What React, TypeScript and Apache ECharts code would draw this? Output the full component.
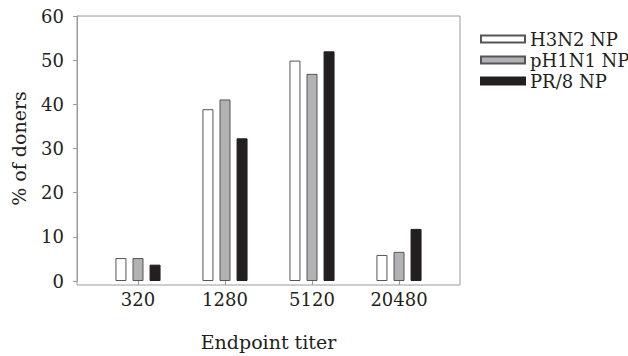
import React, { useEffect, useRef } from "react";
import * as echarts from "echarts";

const categories = ["320", "1280", "5120", "20480"];
const h3n2 = [5.2, 38.9, 49.9, 5.9];
const ph1n1 = [5.2, 41.1, 46.9, 6.6];
const pr8 = [3.7, 32.3, 52.0, 11.8];
const seriesNames = ["H3N2 NP", "pH1N1 NP", "PR/8 NP"];
const yTicks = [0, 10, 20, 30, 40, 50, 60];

const FONT = "DejaVu Serif";
const TEXT = "#231f20";
const AXIS = "#9a9a9a";

export default function App() {
  const ref = useRef<HTMLDivElement>(null);
  useEffect(() => {
    if (!ref.current) return;
    const chart = echarts.init(ref.current, undefined, { renderer: "svg" });
    const barBase = { type: "bar", xAxisIndex: 1, yAxisIndex: 1, barWidth: 11, barGap: "55%" };
    chart.setOption({
      animation: false,
      textStyle: { fontFamily: FONT },
      grid: [
        { left: 77, right: 168, top: 16, bottom: 71, show: true, borderColor: AXIS, borderWidth: 1, backgroundColor: "transparent" },
        { left: 94.5, right: 185.5, top: 16, bottom: 71 },
      ],
      legend: {
        orient: "vertical",
        left: 475,
        top: 25,
        icon: "rect",
        itemWidth: 44,
        itemHeight: 7,
        itemGap: 3,
        textStyle: { fontFamily: FONT, fontSize: 18, color: TEXT },
        data: seriesNames,
      },
      xAxis: [
        { type: "value", gridIndex: 0, show: false, min: 0, max: 1 },
        {
          type: "category",
          gridIndex: 1,
          data: categories,
          axisLine: { show: false },
          axisTick: { show: true, alignWithLabel: true, length: 4, lineStyle: { color: AXIS } },
          axisLabel: { fontFamily: FONT, fontSize: 18, color: TEXT, margin: 9 },
          name: "Endpoint titer",
          nameLocation: "middle",
          nameGap: 51,
          nameTextStyle: { fontFamily: FONT, fontSize: 19, color: TEXT },
        },
      ],
      yAxis: [
        { type: "value", gridIndex: 0, show: false, min: 0, max: 1 },
        {
          type: "value",
          gridIndex: 1,
          min: yTicks[0],
          max: yTicks[yTicks.length - 1],
          interval: 10,
          offset: 17.5,
          axisLine: { show: true, lineStyle: { color: AXIS } },
          axisTick: { show: true, length: 4, lineStyle: { color: AXIS } },
          splitLine: { show: false },
          axisLabel: { fontFamily: FONT, fontSize: 18, color: TEXT, margin: 13 },
          name: "% of doners",
          nameLocation: "middle",
          nameGap: 49,
          nameTextStyle: { fontFamily: FONT, fontSize: 19, color: TEXT },
        },
      ],
      series: [
        { ...barBase, name: seriesNames[0], data: h3n2, itemStyle: { color: "#ffffff", borderColor: "#555555", borderWidth: 1 } },
        { ...barBase, name: seriesNames[1], data: ph1n1, itemStyle: { color: "#b2b2b4", borderColor: "#555555", borderWidth: 1 } },
        { ...barBase, name: seriesNames[2], data: pr8, itemStyle: { color: "#231f20", borderColor: "#231f20", borderWidth: 1 } },
      ],
    });
    return () => chart.dispose();
  }, []);
  return <div ref={ref} style={{ width: 628, height: 356, position: "absolute", left: 0, top: 0 }} />;
}
